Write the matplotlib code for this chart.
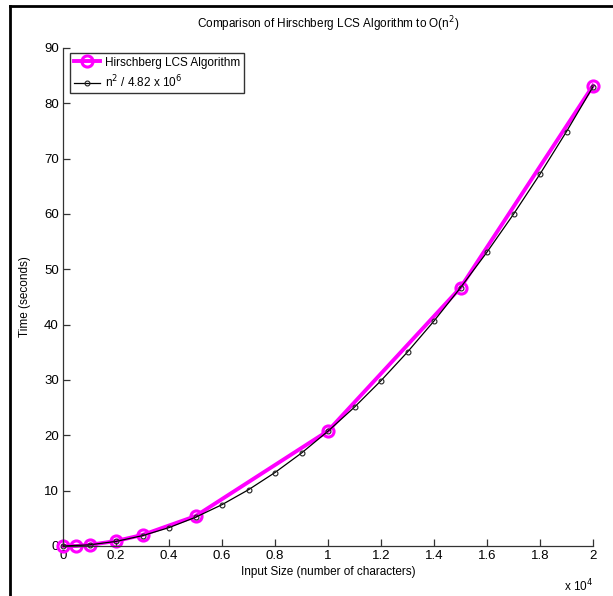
import matplotlib.pyplot as plt
from matplotlib.lines import Line2D

# measured running times
hirsch_n = [0, 500, 1000, 2000, 3000, 5000, 10000, 15000, 20000]
hirsch_t = [0.0, 0.0, 0.2, 0.9, 2.0, 5.4, 20.8, 46.7, 83.2]

# reference curve n^2 / 4.82e6
ref_n = [0, 1000, 2000, 3000, 4000, 5000, 6000, 7000, 8000, 9000, 10000,
         11000, 12000, 13000, 14000, 15000, 16000, 17000, 18000, 19000, 20000]
ref_t = [0.0, 0.21, 0.83, 1.87, 3.32, 5.19, 7.47, 10.17, 13.28, 16.80, 20.75,
         25.10, 29.88, 35.06, 40.66, 46.68, 53.11, 59.96, 67.22, 74.90, 82.99]

xticks = [0, 0.2, 0.4, 0.6, 0.8, 1, 1.2, 1.4, 1.6, 1.8, 2]
yticks = [0, 10, 20, 30, 40, 50, 60, 70, 80, 90]

plt.rcParams['font.family'] = ['Liberation Sans', 'DejaVu Sans']

W, H = 613, 596
fig = plt.figure(figsize=(W / 100, H / 100), dpi=100)
ax = fig.add_axes([63 / W, 1 - 546 / H, (593 - 63) / W, (546 - 48) / H])

ax.plot([n / 1e4 for n in hirsch_n], hirsch_t, color='#ff00ff', lw=2.8,
        marker='o', ms=8, mfc='none', mec='#ff00ff', mew=2.2,
        label='Hirschberg LCS Algorithm', zorder=2, clip_on=False)
ax.plot([n / 1e4 for n in ref_n], ref_t, color='black', lw=0.9,
        marker='o', ms=3.5, mfc='none', mec='#222222', mew=0.8,
        label='n$^2$ / 4.82 x 10$^6$', zorder=3, clip_on=False)

ax.set_xlim(0, 2)
ax.set_ylim(0, 90)
ax.set_xticks(xticks)
ax.set_xticklabels(['%g' % t for t in xticks])
ax.set_yticks(yticks)
ax.spines['top'].set_visible(False)
ax.spines['right'].set_visible(False)
for s in ['left', 'bottom']:
    ax.spines[s].set_color('#333333')
    ax.spines[s].set_linewidth(0.9)
ax.tick_params(direction='in', length=5, width=0.9, color='#333333',
               labelsize=9.5, pad=3)
ax.patch.set_visible(False)

ax.set_title('Comparison of Hirschberg LCS Algorithm to O(n$^2$)',
             fontsize=8.5, pad=14)
ax.set_xlabel('Input Size (number of characters)', fontsize=8.5, labelpad=3)
ax.set_ylabel('Time (seconds)', fontsize=8.5, labelpad=9)
fig.text(593 / W, 1 - 586 / H, 'x 10$^4$', fontsize=8.5, ha='right',
         va='center')

leg = ax.legend(loc='upper left', bbox_to_anchor=(7 / 530, 1 - 5 / 498),
                fontsize=8.5, frameon=True, fancybox=False, borderpad=0.3,
                handlelength=2.2, handletextpad=0.5, labelspacing=0.4,
                borderaxespad=0)
leg.get_frame().set_edgecolor('black')
leg.get_frame().set_linewidth(1.0)

# outer frame
y0 = 1 - 6 / H
x0 = 10 / W
fig.add_artist(Line2D([x0, x0], [0, y0], color='black', lw=2))
fig.add_artist(Line2D([x0, 1], [y0, y0], color='black', lw=2))

plt.savefig('out.png', dpi=100)
plt.close()
